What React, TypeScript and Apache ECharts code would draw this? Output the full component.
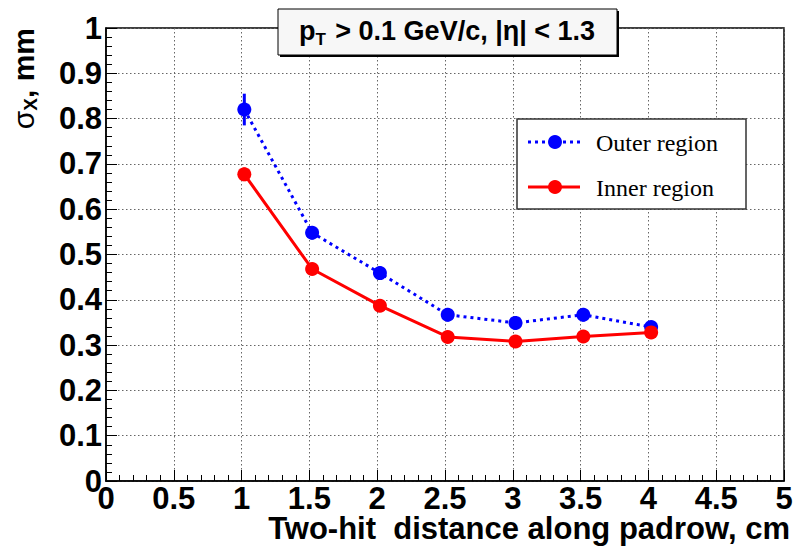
import React, { useEffect, useRef } from "react";
import * as echarts from "echarts";

const xValues = [1.02, 1.52, 2.02, 2.52, 3.02, 3.52, 4.02];
const outerValues = [0.82, 0.548, 0.459, 0.367, 0.349, 0.367, 0.34];
const outerErrors = [0.035, 0.015, 0.015, 0.015, 0.015, 0.015, 0.012];
const innerValues = [0.677, 0.468, 0.387, 0.318, 0.308, 0.319, 0.328];
const innerErrors = [0.015, 0.01, 0.01, 0.008, 0.008, 0.008, 0.008];
const seriesNames = ["Outer region", "Inner region"];
const xTitle = "Two-hit  distance along padrow, cm";

const FONT = "'Liberation Sans', Arial, Helvetica, sans-serif";
const SERIF = "'Liberation Serif', 'Times New Roman', serif";

export default function App() {
  const ref = useRef<HTMLDivElement>(null);
  useEffect(() => {
    if (!ref.current) return;
    const chart = echarts.init(ref.current, null, { renderer: "svg" });
    const errRender = (color: string) => (params: any, api: any) => {
      const x = api.value(0);
      const y = api.value(1);
      const e = api.value(2);
      const p1 = api.coord([x, y - e]);
      const p2 = api.coord([x, y + e]);
      return {
        type: "line",
        shape: { x1: p1[0], y1: p1[1], x2: p2[0], y2: p2[1] },
        style: { stroke: color, lineWidth: 3 },
      };
    };
    const axisCommon = {
      axisLine: { show: true, lineStyle: { color: "#000", width: 1.5 } },
      axisTick: { show: true, inside: true, length: 11, lineStyle: { color: "#000" } },
      minorTick: { show: true, splitNumber: 5, length: 6, lineStyle: { color: "#000" } },
      splitLine: { show: true, lineStyle: { color: "#666", type: [1.5, 2.5], width: 1 } },
    };
    const option: any = {
      animation: false,
      backgroundColor: "#ffffff",
      grid: {
        left: 106,
        right: 16,
        top: 28,
        bottom: 69,
        show: true,
        borderColor: "#000",
        borderWidth: 1.5,
        backgroundColor: "transparent",
      },
      xAxis: {
        type: "value",
        min: 0,
        max: 5,
        interval: 0.5,
        ...axisCommon,
        axisLabel: {
          margin: 5,
          fontFamily: FONT,
          fontWeight: "bold",
          fontSize: 31,
          lineHeight: 24,
          color: "#000",
          formatter: (v: number) => String(v),
        },
      },
      yAxis: {
        type: "value",
        min: 0,
        max: 1,
        interval: 0.1,
        ...axisCommon,
        axisLabel: {
          margin: 4,
          fontFamily: FONT,
          fontWeight: "bold",
          fontSize: 31,
          lineHeight: 24,
          color: "#000",
          formatter: (v: number) => String(Math.round(v * 10) / 10),
        },
      },
      series: [
        {
          name: seriesNames[0] + " err",
          type: "custom",
          renderItem: errRender("#0000ff"),
          data: xValues.map((x, i) => [x, outerValues[i], outerErrors[i]]),
          z: 3,
        },
        {
          name: seriesNames[1] + " err",
          type: "custom",
          renderItem: errRender("#ff0000"),
          data: xValues.map((x, i) => [x, innerValues[i], innerErrors[i]]),
          z: 3,
        },
        {
          name: seriesNames[0],
          type: "line",
          data: xValues.map((x, i) => [x, outerValues[i]]),
          lineStyle: { color: "#0000ff", width: 3, type: [3, 4] },
          itemStyle: { color: "#0000ff" },
          symbol: "circle",
          symbolSize: 14,
          z: 4,
        },
        {
          name: seriesNames[1],
          type: "line",
          data: xValues.map((x, i) => [x, innerValues[i]]),
          lineStyle: { color: "#ff0000", width: 3 },
          itemStyle: { color: "#ff0000" },
          symbol: "circle",
          symbolSize: 14,
          z: 4,
        },
      ],
      graphic: [
        // x title
        {
          type: "text",
          right: 10,
          top: 513,
          style: {
            text: xTitle,
            font: `bold 31px ${FONT}`,
            lineHeight: 26,
            fill: "#000",
          },
        },
        // y title
        {
          type: "text",
          x: 7,
          y: 28,
          rotation: Math.PI / 2,
          style: {
            text: "{s|σ}{sub|X}{b|, mm}",
            align: "right",
            verticalAlign: "top",
            rich: {
              s: { font: `30px ${FONT}`, fill: "#000" },
              sub: { font: `bold 19px ${FONT}`, fill: "#000", padding: [14, 0, 0, 0] },
              b: { font: `bold 30px ${FONT}`, fill: "#000" },
            },
          },
        },
        // title box shadow
        {
          type: "rect",
          shape: { x: 280, y: 11, width: 339, height: 46 },
          style: { fill: "#000" },
          z: 100,
        },
        {
          type: "rect",
          shape: { x: 278, y: 9, width: 339, height: 46 },
          style: { fill: "#f7f7f7", stroke: "#000", lineWidth: 1 },
          z: 101,
        },
        {
          type: "text",
          x: 447,
          y: 31,
          z: 102,
          style: {
            text: "{p|p}{sub|T}{t| > 0.1 GeV/c, |η| < 1.3}",
            align: "center",
            verticalAlign: "middle",
            rich: {
              p: { font: `bold 27px ${FONT}`, fill: "#000" },
              sub: { font: `bold 17px ${FONT}`, fill: "#000", padding: [16, 2, 0, 0] },
              t: { font: `bold 27px ${FONT}`, fill: "#000" },
            },
          },
        },
        // legend box
        {
          type: "rect",
          shape: { x: 517, y: 119, width: 229, height: 90 },
          style: { fill: "#fff", stroke: "#333", lineWidth: 1.5 },
          z: 100,
        },
        {
          type: "line",
          shape: { x1: 528, y1: 142, x2: 580, y2: 142 },
          style: { stroke: "#0000ff", lineWidth: 3, lineDash: [3, 4] },
          z: 101,
        },
        {
          type: "circle",
          shape: { cx: 555, cy: 142, r: 7 },
          style: { fill: "#0000ff" },
          z: 102,
        },
        {
          type: "text",
          x: 596,
          y: 143,
          z: 102,
          style: {
            text: seriesNames[0],
            font: `24px ${SERIF}`,
            fill: "#000",
            verticalAlign: "middle",
          },
        },
        {
          type: "line",
          shape: { x1: 528, y1: 187, x2: 580, y2: 187 },
          style: { stroke: "#ff0000", lineWidth: 3 },
          z: 101,
        },
        {
          type: "circle",
          shape: { cx: 555, cy: 187, r: 7 },
          style: { fill: "#ff0000" },
          z: 102,
        },
        {
          type: "text",
          x: 596,
          y: 188,
          z: 102,
          style: {
            text: seriesNames[1],
            font: `24px ${SERIF}`,
            fill: "#000",
            verticalAlign: "middle",
          },
        },
      ],
    };
    chart.setOption(option);
    return () => chart.dispose();
  }, []);
  return <div ref={ref} style={{ width: 800, height: 550, position: "absolute", left: 0, top: 0 }} />;
}
